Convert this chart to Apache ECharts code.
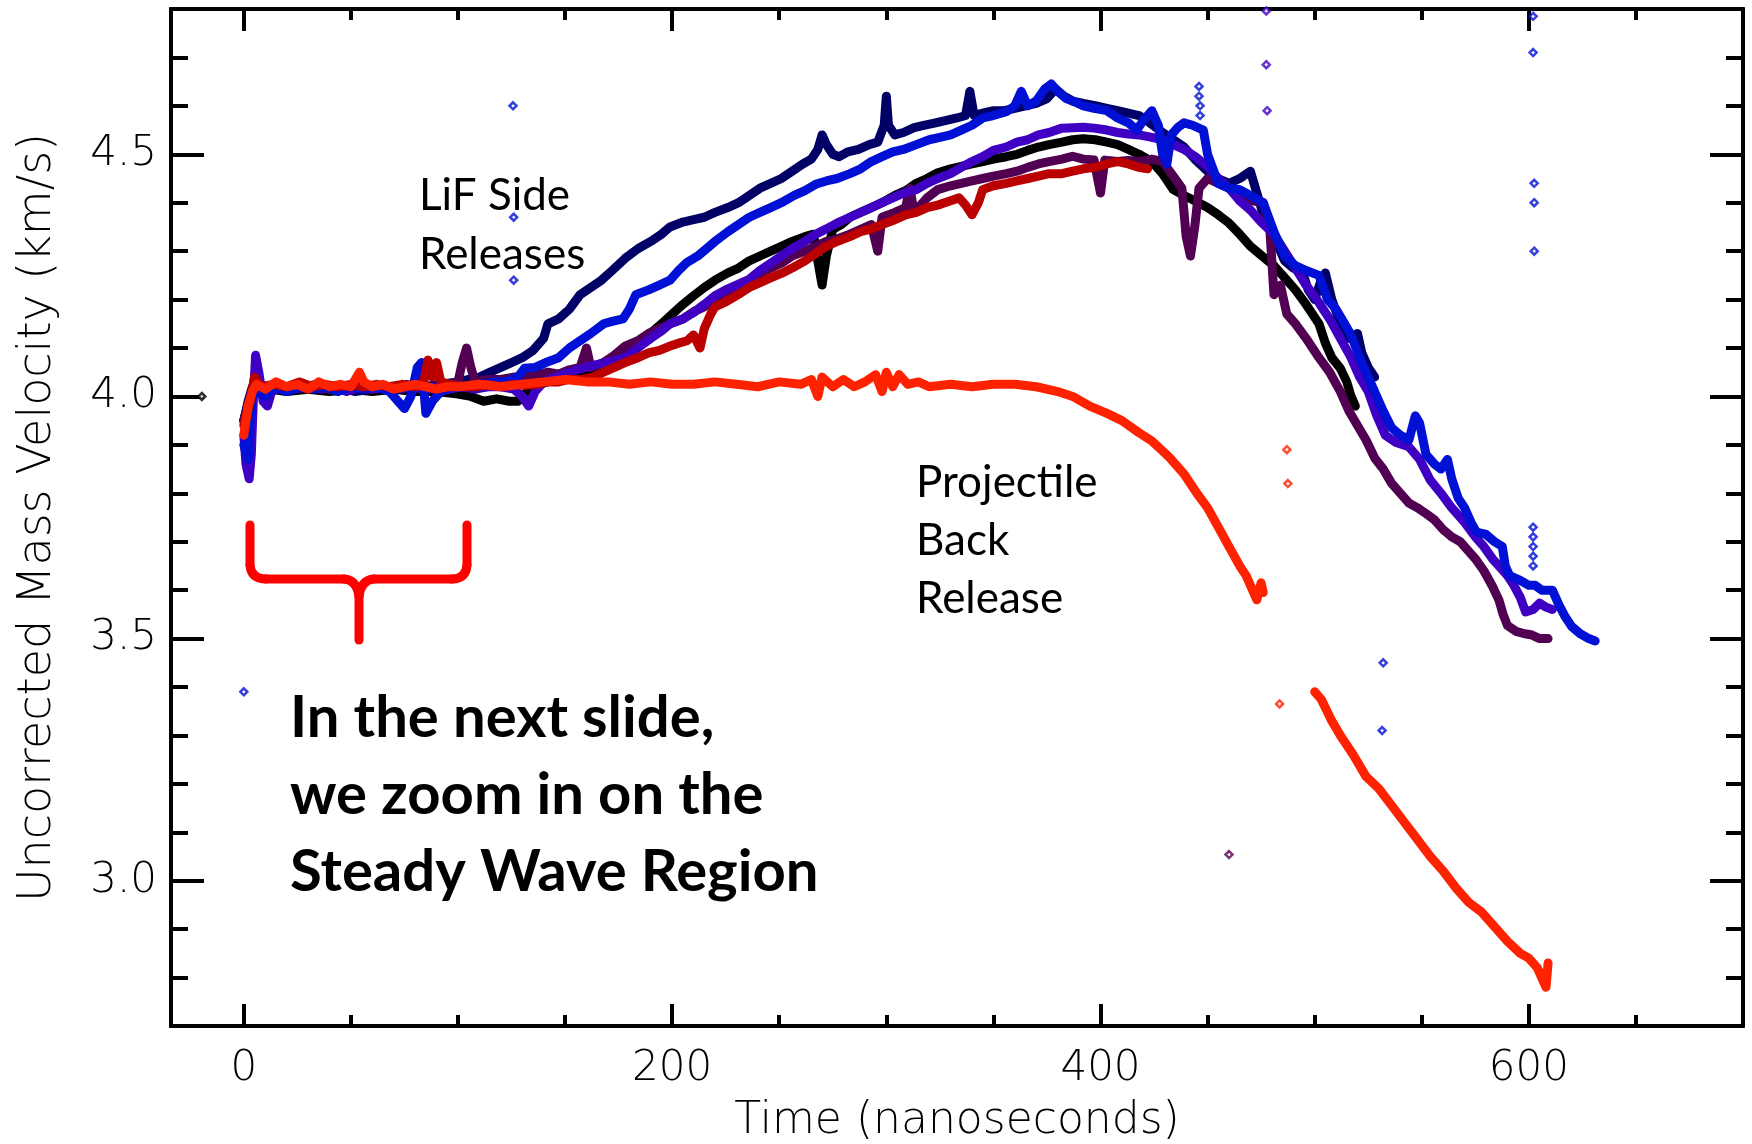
<!DOCTYPE html>
<html>
<head>
<meta charset="utf-8">
<script src="https://cdn.jsdelivr.net/npm/echarts@6/dist/echarts.min.js"></script>
<style>html,body{margin:0;padding:0;background:#fff;}#c{width:1752px;height:1144px;}</style>
</head>
<body>
<div id="c"></div>
<script>
// ---- axis ticks ----
const xMajorTicks = [0, 200, 400, 600];
const xMinorTicks = [50, 100, 150, 250, 300, 350, 450, 500, 550, 650];
const yMajorTicks = [3.0, 3.5, 4.0, 4.5];
const yMinorTicks = [2.8, 2.9, 3.1, 3.2, 3.3, 3.4, 3.6, 3.7, 3.8, 3.9, 4.1, 4.2, 4.3, 4.4, 4.6, 4.7];

// ---- traces [time ns, velocity km/s] ----
const navy = [[0,3.95],[2,3.99],[4,4.02],[8,4.015],[14,4.02],[20,4.01],[28,4.02],[36,4.015],[44,4.02],[52,4.01],[60,4.015],[68,4.02],[76,4.015],[84,4.02],[92,4.025],[100,4.03],[105,4.035],[110,4.04],[115,4.05],[120,4.06],[125,4.07],[130,4.08],[135,4.095],[140,4.12],[142,4.15],[147,4.16],[152,4.18],[157,4.21],[162,4.225],[167,4.24],[172,4.26],[178,4.285],[184,4.305],[190,4.32],[195,4.335],[199,4.35],[205,4.36],[210,4.365],[215,4.37],[220,4.38],[226,4.39],[231,4.40],[236,4.415],[241,4.43],[246,4.44],[251,4.45],[256,4.465],[261,4.48],[265,4.49],[268,4.51],[270,4.54],[272,4.52],[275,4.50],[278,4.495],[282,4.505],[287,4.51],[292,4.52],[296,4.525],[299,4.56],[300,4.62],[301,4.56],[304,4.54],[308,4.545],[313,4.555],[318,4.56],[323,4.565],[328,4.57],[333,4.575],[337,4.58],[339,4.63],[341,4.58],[345,4.585],[350,4.59],[355,4.59],[360,4.595],[365,4.60],[370,4.605],[375,4.615],[379,4.635],[383,4.62],[387,4.61],[392,4.605],[398,4.60],[403,4.595],[408,4.59],[413,4.585],[418,4.58],[423,4.565],[429,4.545],[434,4.53],[439,4.515],[444,4.49],[450,4.465],[455,4.45],[460,4.44],[465,4.45],[470,4.465],[473,4.42],[476,4.375],[481,4.33],[486,4.28],[490,4.265],[494,4.26],[497,4.22],[500,4.20],[503,4.24],[505,4.255],[508,4.20],[512,4.15],[516,4.12],[520,4.13],[522,4.09],[525,4.06],[528,4.04]];

const blue = [[0,3.90],[2,3.87],[3,3.96],[5,4.04],[7,4.01],[10,4.0],[14,4.02],[20,4.01],[26,4.02],[32,4.015],[38,4.02],[44,4.01],[50,4.02],[56,4.015],[62,4.02],[68,4.01],[72,3.99],[75,3.975],[78,4.0],[81,4.06],[83,4.07],[85,3.965],[88,3.99],[92,4.01],[98,4.02],[104,4.02],[110,4.025],[116,4.03],[122,4.03],[128,4.04],[131,4.058],[136,4.06],[141,4.07],[147,4.08],[152,4.10],[157,4.115],[162,4.13],[168,4.15],[172,4.155],[177,4.16],[180,4.18],[183,4.21],[189,4.22],[194,4.23],[199,4.24],[203,4.26],[207,4.277],[212,4.29],[216,4.305],[220,4.32],[226,4.34],[231,4.355],[236,4.37],[241,4.38],[246,4.39],[251,4.40],[257,4.415],[262,4.425],[267,4.438],[272,4.445],[277,4.45],[283,4.46],[288,4.47],[293,4.485],[298,4.495],[303,4.505],[308,4.51],[314,4.52],[320,4.53],[325,4.535],[330,4.54],[335,4.55],[340,4.56],[345,4.575],[350,4.58],[356,4.588],[360,4.60],[363,4.63],[366,4.60],[370,4.61],[374,4.635],[377,4.645],[380,4.63],[384,4.615],[387,4.61],[392,4.60],[397,4.595],[403,4.59],[408,4.575],[413,4.565],[417,4.55],[420,4.57],[424,4.59],[427,4.56],[429,4.50],[431,4.48],[433,4.54],[436,4.555],[439,4.565],[443,4.56],[448,4.55],[450,4.50],[455,4.44],[460,4.43],[465,4.427],[470,4.415],[476,4.40],[481,4.34],[486,4.29],[491,4.27],[496,4.26],[502,4.25],[506,4.20],[510,4.18],[514,4.15],[517,4.127],[521,4.08],[524,4.05],[528,4.01],[532,3.97],[536,3.935],[540,3.92],[544,3.91],[547,3.96],[549,3.945],[552,3.88],[556,3.86],[559,3.85],[562,3.87],[564,3.83],[567,3.79],[570,3.77],[573,3.74],[575.5,3.72],[580,3.715],[584,3.70],[587.6,3.69],[589,3.65],[591,3.63],[596,3.62],[600,3.61],[603,3.61],[606,3.60],[611,3.60],[614,3.57],[617,3.545],[620,3.525],[624,3.51],[628,3.50],[631,3.495]];

const violet = [[0,3.92],[1,3.86],[2.5,3.83],[3.5,3.88],[4.5,4.0],[5.5,4.085],[7,4.05],[9,3.99],[11,3.98],[13,4.01],[18,4.02],[24,4.015],[30,4.02],[36,4.015],[42,4.02],[48,4.01],[54,4.02],[60,4.015],[66,4.02],[72,4.015],[78,4.02],[84,4.015],[90,4.02],[96,4.015],[102,4.02],[108,4.015],[114,4.02],[120,4.02],[126,4.015],[130,4.0],[133,3.98],[136,4.01],[140,4.03],[146,4.04],[152,4.05],[158,4.058],[164,4.065],[170,4.07],[178,4.08],[184,4.10],[190,4.12],[195,4.135],[199,4.15],[205,4.16],[210,4.173],[215,4.19],[220,4.208],[225,4.22],[230,4.23],[236,4.242],[241,4.26],[246,4.275],[251,4.29],[256,4.305],[262,4.32],[267,4.335],[272,4.346],[278,4.36],[283,4.37],[288,4.38],[293,4.39],[298,4.40],[303,4.41],[308,4.42],[314,4.427],[319,4.44],[324,4.45],[330,4.46],[335,4.473],[340,4.485],[345,4.495],[350,4.508],[356,4.515],[361,4.525],[366,4.53],[371,4.54],[376,4.545],[382,4.554],[387,4.555],[392,4.556],[397,4.554],[403,4.55],[408,4.545],[413,4.542],[418,4.54],[424,4.535],[429,4.53],[434,4.52],[439,4.51],[444,4.496],[450,4.475],[455,4.45],[460,4.43],[465,4.404],[470,4.385],[475,4.36],[481,4.335],[486,4.30],[491,4.265],[496,4.23],[501,4.20],[507,4.16],[512,4.12],[517,4.08],[521,4.04],[525,4.01],[529,3.96],[533,3.92],[538,3.905],[544,3.896],[549,3.87],[554,3.827],[559,3.80],[564,3.77],[570,3.74],[575,3.71],[579,3.69],[583,3.665],[587,3.645],[590,3.63],[593,3.61],[596,3.585],[598.5,3.555],[602,3.56],[605,3.573],[608,3.565],[611,3.56]];

const black = [[0,3.95],[3,4.0],[6,4.02],[12,4.015],[20,4.01],[30,4.015],[40,4.01],[50,4.015],[60,4.01],[70,4.015],[80,4.01],[90,4.01],[100,4.005],[106,4.0],[112,3.99],[118,3.995],[124,3.99],[128,3.99],[131,4.005],[137,4.023],[145,4.035],[152,4.045],[160,4.05],[168,4.058],[175,4.08],[182,4.10],[189,4.127],[195,4.15],[200,4.17],[205,4.19],[210,4.208],[215,4.225],[220,4.24],[226,4.255],[231,4.265],[236,4.28],[241,4.29],[246,4.30],[251,4.31],[256,4.32],[262,4.33],[266,4.335],[268,4.28],[270,4.23],[272,4.29],[275,4.345],[279,4.355],[283,4.37],[288,4.38],[293,4.39],[298,4.40],[304,4.415],[309,4.425],[314,4.44],[319,4.45],[324,4.462],[330,4.47],[335,4.475],[340,4.48],[345,4.485],[350,4.49],[356,4.495],[361,4.50],[366,4.508],[371,4.515],[376,4.52],[382,4.525],[387,4.53],[392,4.532],[397.5,4.53],[403,4.525],[408,4.52],[413,4.51],[418,4.50],[424,4.485],[429,4.46],[434,4.427],[439,4.415],[444,4.404],[450,4.39],[455,4.375],[460,4.358],[465,4.335],[470,4.31],[476,4.288],[481,4.27],[486,4.245],[491,4.22],[496,4.19],[502,4.15],[505,4.11],[508,4.08],[512,4.058],[515,4.03],[517,4.00],[519,3.98]];

const plum = [[0,3.95],[3,4.0],[6,4.03],[10,4.02],[16,4.025],[22,4.015],[28,4.02],[34,4.025],[40,4.015],[46,4.02],[52,4.025],[58,4.015],[64,4.02],[70,4.02],[76,4.025],[82,4.02],[88,4.015],[94,4.02],[100,4.03],[102,4.07],[104,4.10],[106,4.06],[108,4.03],[114,4.035],[120,4.035],[126,4.04],[131,4.04],[137,4.045],[142,4.05],[147,4.046],[152,4.055],[157,4.06],[160,4.10],[162,4.06],[168,4.07],[173,4.085],[178,4.104],[184,4.115],[189,4.13],[194,4.14],[199,4.15],[205,4.16],[210,4.175],[215,4.185],[220,4.196],[225,4.21],[230,4.225],[236,4.24],[241,4.254],[246,4.265],[251,4.275],[256,4.29],[262,4.30],[267,4.31],[272,4.32],[277,4.325],[283,4.335],[288,4.345],[293,4.355],[296,4.30],[298,4.37],[304,4.38],[309,4.39],[311,4.43],[313,4.38],[319,4.41],[324,4.427],[330,4.435],[335,4.44],[340,4.445],[345,4.45],[350,4.455],[356,4.46],[361,4.465],[366,4.473],[371,4.48],[376,4.485],[382,4.49],[387,4.496],[392,4.49],[397,4.488],[400,4.42],[402,4.488],[408,4.485],[413,4.487],[418,4.485],[424,4.49],[429,4.485],[434,4.455],[438,4.43],[440,4.33],[442,4.29],[444,4.35],[446,4.43],[450,4.45],[455,4.44],[460,4.43],[465,4.415],[470,4.405],[476,4.40],[479,4.35],[481,4.21],[484,4.23],[487,4.17],[491,4.15],[496,4.12],[502,4.08],[507,4.05],[512,4.01],[516,3.97],[520,3.94],[524,3.91],[528,3.873],[532,3.85],[536,3.82],[540,3.80],[544,3.78],[548,3.77],[552,3.758],[556,3.745],[560,3.725],[564,3.71],[568,3.70],[572,3.68],[575,3.665],[579,3.64],[583,3.608],[586,3.58],[588,3.55],[590,3.527],[594,3.515],[598,3.51],[601,3.508],[605,3.50],[609,3.50]];

const darkRed = [[0,3.94],[3,3.99],[5,4.04],[8,4.02],[14,4.025],[20,4.02],[26,4.03],[32,4.02],[38,4.025],[44,4.02],[50,4.025],[56,4.02],[62,4.025],[68,4.02],[74,4.025],[80,4.02],[84,4.03],[86,4.075],[88,4.04],[90,4.07],[92,4.03],[96,4.025],[102,4.02],[108,4.02],[114,4.025],[120,4.02],[126,4.025],[131,4.023],[137,4.025],[142,4.03],[147,4.03],[152,4.035],[157.6,4.035],[163,4.04],[168,4.05],[173,4.06],[178,4.07],[184,4.08],[189,4.09],[194,4.095],[199,4.104],[203,4.11],[207,4.115],[210,4.127],[213,4.10],[215,4.14],[218,4.17],[220,4.185],[225,4.195],[230,4.208],[236,4.225],[241,4.235],[246,4.245],[251,4.254],[256,4.265],[262,4.28],[267,4.295],[272,4.31],[277,4.32],[283,4.33],[288,4.34],[293,4.346],[298,4.355],[304,4.365],[309,4.375],[314,4.38],[319,4.39],[324,4.395],[330,4.404],[334,4.41],[337,4.395],[340,4.375],[343,4.40],[345,4.427],[350,4.435],[356,4.44],[361,4.445],[366,4.45],[371,4.455],[376,4.46],[382,4.46],[387,4.465],[392,4.47],[397.5,4.473],[403,4.48],[408,4.485],[413,4.48],[418,4.473],[422,4.47]];

const projUpper = [[0,3.92],[1,3.95],[2,3.98],[4,4.01],[6,4.025],[10,4.015],[15,4.03],[20,4.02],[25,4.025],[30,4.015],[35,4.03],[40,4.02],[45,4.025],[50,4.02],[54,4.05],[56,4.03],[60,4.02],[65,4.025],[70,4.015],[75,4.02],[80,4.025],[85,4.02],[90,4.015],[95,4.02],[100,4.02],[110,4.025],[120,4.02],[130,4.025],[140,4.03],[150,4.035],[160,4.03],[170,4.03],[180,4.025],[190,4.03],[200,4.025],[210,4.025],[220,4.03],[230,4.025],[240,4.02],[250,4.03],[260,4.025],[265,4.035],[268,4.0],[270,4.04],[275,4.02],[280,4.035],[285,4.02],[290,4.03],[295,4.045],[298,4.01],[300,4.05],[303,4.02],[306,4.045],[310,4.025],[315,4.03],[320,4.02],[330,4.025],[340,4.02],[350,4.025],[360,4.025],[370,4.02],[380,4.01],[387,4.0],[395,3.98],[403,3.965],[410,3.95],[418,3.925],[424,3.908],[432,3.875],[439,3.84],[445,3.80],[450,3.77],[455,3.73],[460,3.69],[465,3.65],[468,3.63],[471,3.60],[473,3.58],[475,3.615],[476,3.595]];

const projLower = [[500,3.39],[503,3.375],[508,3.33],[512,3.30],[518,3.26],[524,3.215],[530,3.19],[536,3.155],[542,3.12],[548,3.085],[554,3.05],[560,3.02],[566,2.985],[572,2.955],[578,2.935],[584,2.905],[590,2.875],[596,2.85],[600,2.84],[604,2.82],[606,2.80],[608,2.78],[609,2.83]];

// isolated stray points
const blueDots = [[125.7,4.60],[126,4.37],[126,4.24],[0,3.39],[602,4.785],[602,4.71],[602.5,4.44],[602.5,4.40],[602.5,4.30],[532,3.45],[531.5,3.31],[446,4.64],[446,4.62],[446.5,4.60],[446.5,4.58],[602,3.73],[602,3.71],[602,3.69],[602,3.67],[602,3.65]];
const violetDots = [[477.4,4.796],[477.4,4.685],[477.8,4.59]];
const plumDots = [[460,3.054]];
const projDots = [[487,3.89],[487.5,3.82],[483.6,3.365]];
const blackDots = [[-19.6,4.0]];

const X_MIN = -34, X_MAX = 700, Y_MIN = 2.7, Y_MAX = 4.8;
const axisFont = 'DejaVu Sans';

function xAx(pos, ticks, len, labels) {
  return {
    type: 'value', position: pos, min: X_MIN, max: X_MAX,
    axisLine: { show: true, onZero: false, lineStyle: { color: '#000', width: 4 } },
    axisTick: { show: true, inside: true, length: len, customValues: ticks, lineStyle: { color: '#000', width: 4 } },
    axisLabel: labels ? { show: true, customValues: ticks, color: '#000', fontFamily: axisFont, fontWeight: 200, fontSize: 42, margin: 22 } : { show: false },
    splitLine: { show: false }
  };
}
function yAx(pos, ticks, len, labels) {
  return {
    type: 'value', position: pos, min: Y_MIN, max: Y_MAX,
    axisLine: { show: true, onZero: false, lineStyle: { color: '#000', width: 4 } },
    axisTick: { show: true, inside: true, length: len, customValues: ticks, lineStyle: { color: '#000', width: 4 } },
    axisLabel: labels ? { show: true, customValues: ticks, color: '#000', fontFamily: axisFont, fontWeight: 200, fontSize: 42, margin: 14, formatter: v => Number(v).toFixed(1) } : { show: false },
    splitLine: { show: false }
  };
}

const xAxes = [xAx('bottom', xMajorTicks, 22, true), xAx('bottom', xMinorTicks, 11, false), xAx('top', xMajorTicks, 22, false), xAx('top', xMinorTicks, 11, false)];
xAxes[0].name = 'Time (nanoseconds)';
xAxes[0].nameLocation = 'middle';
xAxes[0].nameGap = 74;
xAxes[0].nameTextStyle = { color: '#000', fontFamily: axisFont, fontWeight: 200, fontSize: 44 };
const yAxes = [yAx('left', yMajorTicks, 33, true), yAx('left', yMinorTicks, 17, false), yAx('right', yMajorTicks, 33, false), yAx('right', yMinorTicks, 17, false)];
yAxes[0].name = 'Uncorrected Mass Velocity (km/s)';
yAxes[0].nameLocation = 'middle';
yAxes[0].nameGap = 110;
yAxes[0].nameTextStyle = { color: '#000', fontFamily: axisFont, fontWeight: 200, fontSize: 46 };

function trace(data, color, w) {
  return { type: 'line', data: data, showSymbol: false, symbol: 'none', smooth: false,
    lineStyle: { color: color, width: w || 9, cap: 'round', join: 'round' }, silent: true, animation: false, z: 2 };
}
function dots(data, color) {
  return { type: 'scatter', data: data, symbol: 'diamond', symbolSize: 7,
    itemStyle: { color: '#fff', borderColor: color, borderWidth: 2.5 }, silent: true, animation: false, z: 3 };
}

const braceStyle = { stroke: '#ff0000', lineWidth: 9, lineCap: 'round', lineJoin: 'round', fill: null };
function bLine(x1, y1, x2, y2) { return { type: 'line', shape: { x1, y1, x2, y2 }, style: braceStyle, z: 10, silent: true }; }
function bCurve(x1, y1, cpx1, cpy1, x2, y2) { return { type: 'bezierCurve', shape: { x1, y1, cpx1, cpy1, x2, y2 }, style: braceStyle, z: 10, silent: true }; }

const chart = echarts.init(document.getElementById('c'), null, { renderer: 'canvas' });
chart.setOption({
  backgroundColor: '#fff',
  animation: false,
  grid: { left: 171, right: 9, top: 9, bottom: 118, containLabel: false, outerBoundsMode: 'none' },
  xAxis: xAxes,
  yAxis: yAxes,
  series: [
    trace(black, '#000000'),
    trace(navy, '#000066'),
    trace(plum, '#520052'),
    trace(violet, '#4000c4'),
    trace(blue, '#0010d4'),
    trace(darkRed, '#bb0000'),
    trace(projUpper, '#ff2200'),
    trace(projLower, '#ff2200'),
    dots(blueDots, '#0010d4'),
    dots(violetDots, '#4000c4'),
    dots(plumDots, '#520052'),
    dots(projDots, '#ff2200'),
    dots(blackDots, '#000000')
  ],
  graphic: [
    { type: 'text', x: 419, y: 166, style: { text: 'LiF Side\nReleases', fontFamily: 'Lato', fontSize: 44, lineHeight: 59, fill: '#000', verticalAlign: 'top' }, z: 10 },
    { type: 'text', x: 916, y: 454, style: { text: 'Projectile\nBack\nRelease', fontFamily: 'Lato', fontSize: 44, lineHeight: 58, fill: '#000', verticalAlign: 'top' }, z: 10 },
    { type: 'text', x: 290, y: 680, style: { text: 'In the next slide,\nwe zoom in on the\nSteady Wave Region', fontFamily: 'Lato', fontWeight: 'bold', fontSize: 58, lineHeight: 77, fill: '#000', verticalAlign: 'top' }, z: 10 },
    bLine(250, 525, 250, 565),
    bCurve(250, 565, 251, 579, 266, 579),
    bLine(266, 579, 344, 579),
    bCurve(344, 579, 357, 580, 359, 596),
    bLine(359, 596, 359, 640),
    bCurve(359, 596, 361, 580, 374, 579),
    bLine(374, 579, 452, 579),
    bCurve(452, 579, 466, 579, 467, 565),
    bLine(467, 565, 467, 525)
  ]
});
</script>
</body>
</html>
